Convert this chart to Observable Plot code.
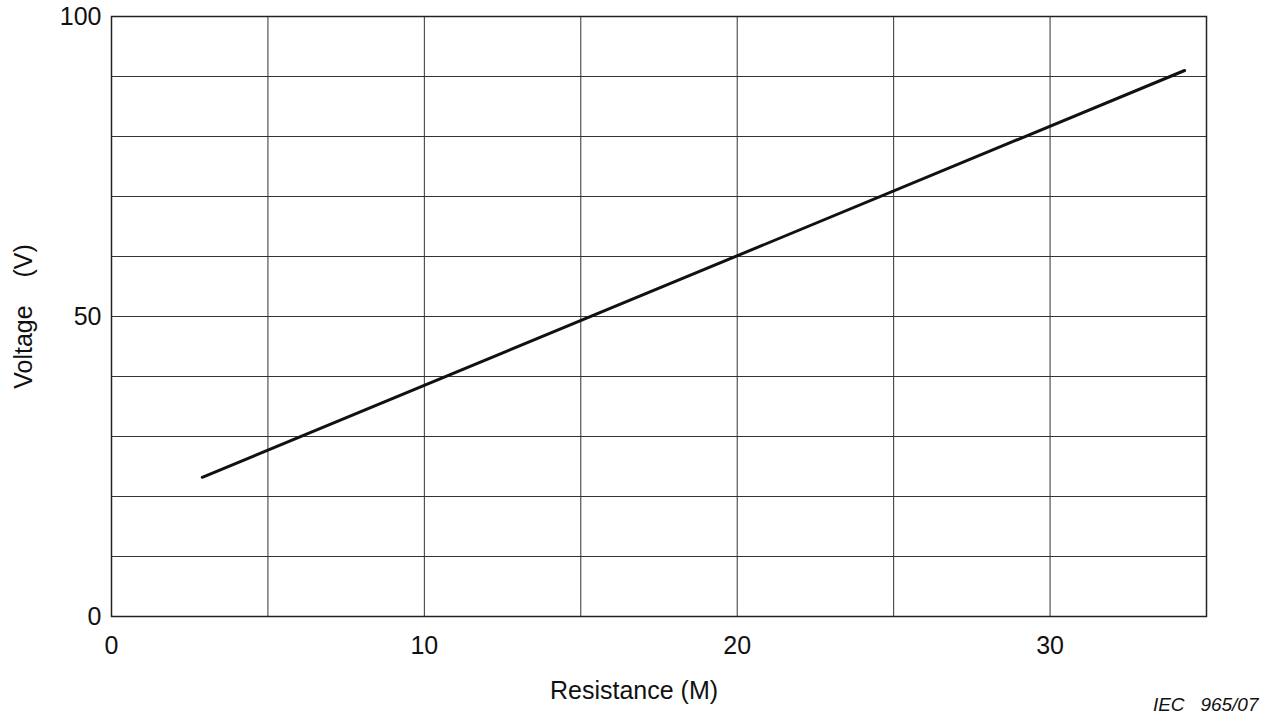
<!DOCTYPE html>
<html>
<head>
<meta charset="utf-8">
<script src="https://cdn.jsdelivr.net/npm/d3@7"></script>
<script src="https://cdn.jsdelivr.net/npm/@observablehq/plot@0.6"></script>
<style>
  html, body { margin: 0; padding: 0; background: #fff; }
</style>
</head>
<body>
<div id="chart"></div>
<script>
// Data
const resistance = [2.9, 34.3];        // M
const voltage = [23.2, 91.0];           // V
const xTickLabels = [0, 10, 20, 30];
const yTickLabels = [0, 50, 100];
const xGrid = [5, 10, 15, 20, 25, 30];
const yGrid = [10, 20, 30, 40, 50, 60, 70, 80, 90];
const xTitle = "Resistance (M)";
const yTitle = "Voltage\u00A0\u00A0\u00A0\u00A0(V)";
const caption = "IEC\u00A0\u00A0\u00A0965/07";

const lineData = resistance.map((r, i) => ({r, v: voltage[i]}));

const chart = Plot.plot({
  width: 1265,
  height: 714,
  marginLeft: 111,
  marginRight: 59,
  marginTop: 16,
  marginBottom: 98,
  style: {fontFamily: "'Liberation Sans', Arial, sans-serif", fontSize: "25px", color: "#111", background: "#fff"},
  x: {domain: [0, 35]},
  y: {domain: [0, 100]},
  marks: [
    Plot.ruleX(xGrid, {stroke: "#333", strokeWidth: 1, strokeOpacity: 1}),
    Plot.ruleY(yGrid, {stroke: "#333", strokeWidth: 1, strokeOpacity: 1}),
    Plot.frame({stroke: "#222", strokeWidth: 1.5}),
    Plot.axisX(xTickLabels, {tickSize: 0, tickPadding: 20, label: null, fontSize: 25}),
    Plot.axisY(yTickLabels, {tickSize: 0, tickPadding: 10, label: yTitle, labelAnchor: "center", labelArrow: "none", labelOffset: 97, fontSize: 25}),
    Plot.text([xTitle], {frameAnchor: "bottom", dx: -25, dy: 82, lineAnchor: "bottom", fontSize: 25, fill: "#111"}),
    Plot.line(lineData, {x: "r", y: "v", stroke: "#111", strokeWidth: 3}),
    Plot.text([caption], {frameAnchor: "bottom-right", dx: 52, dy: 94, lineAnchor: "bottom", fontStyle: "italic", fontSize: 19, textAnchor: "end", fill: "#111"})
  ]
});
document.getElementById("chart").appendChild(chart);
</script>
</body>
</html>
